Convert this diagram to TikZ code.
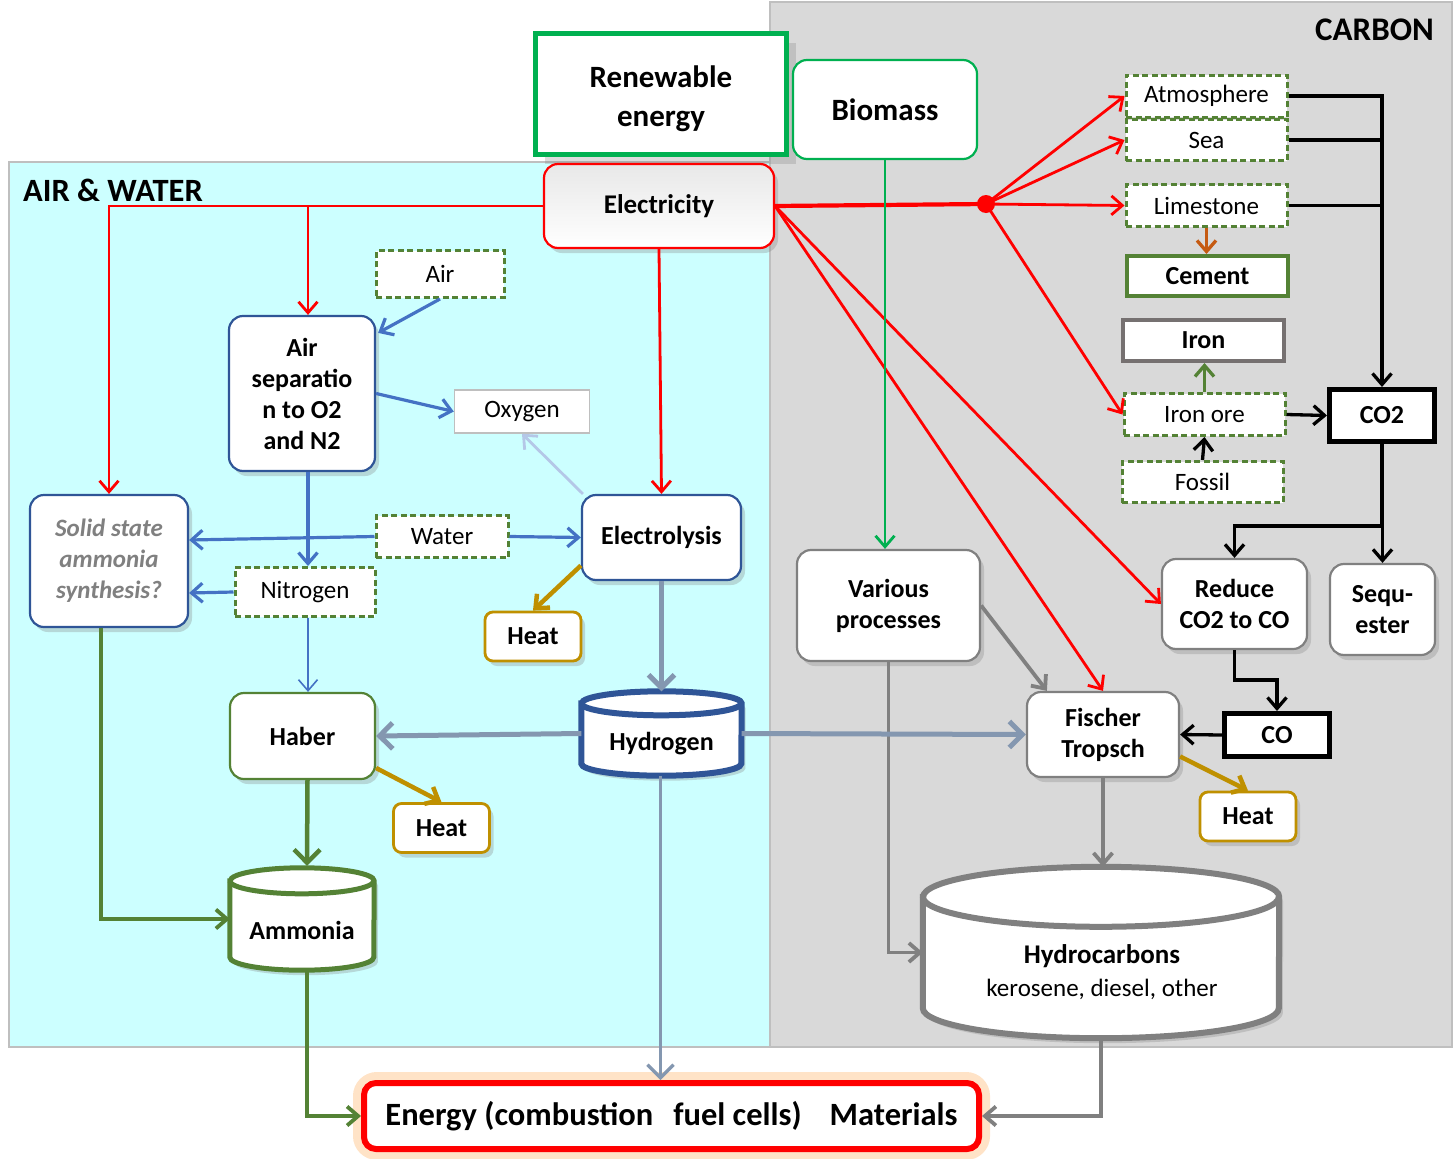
\documentclass[tikz,border=0pt]{standalone}
\usepackage{fontspec}
\setmainfont{Carlito}
\usetikzlibrary{arrows.meta,shadows,calc}
\definecolor{cyanbg}{HTML}{CCFFFF}
\definecolor{greybg}{HTML}{D9D9D9}
\definecolor{rgreen}{HTML}{00B050}
\definecolor{dgreen}{HTML}{548235}
\definecolor{mblue}{HTML}{4472C4}
\definecolor{dblue}{HTML}{2F5597}
\definecolor{gblue}{HTML}{8497B0}
\definecolor{lblue}{HTML}{B4C7E7}
\definecolor{goldc}{HTML}{BF9000}
\definecolor{brownc}{HTML}{C55A11}
\definecolor{mgrey}{HTML}{808080}
\definecolor{irongrey}{HTML}{767171}
\definecolor{edgegrey}{HTML}{BFBFBF}
\newcommand\myb{\fontsize{26}{31}\selectfont\bfseries}
\newcommand\myr{\fontsize{25}{30}\selectfont}
\newcommand\mycyl[6]{% name, colour, line width, rx, ry, shadow
  \filldraw[draw=#2, fill=white, line width=#3pt, #6]
    ($(#1.north west)+(0,#5)$) -- ($(#1.south west)+(0,-#5)$)
    arc[start angle=180, end angle=360, x radius=#4pt, y radius=#5pt]
    -- ($(#1.north east)+(0,#5)$)
    arc[start angle=0, end angle=180, x radius=#4pt, y radius=#5pt] -- cycle;
  \draw[draw=#2, line width=#3pt] ($(#1.north west)+(0,#5)$)
    arc[start angle=180, end angle=360, x radius=#4pt, y radius=#5pt];
}
\tikzset{
  sz/.style 2 args={minimum width=#1pt, minimum height=#2pt},
  sh/.style={drop shadow={opacity=0.3, shadow xshift=4pt, shadow yshift=-5pt}},
  rbox/.style={draw=#1, line width=2.2pt, fill=white, rounded corners=14pt, align=center, inner sep=0pt, font=\myb},
  dbox/.style={draw=dgreen, dashed, dash pattern=on 6pt off 3.5pt, line width=3pt, fill=white, align=center, inner sep=0pt, font=\myr},
  sbox/.style={draw=#1, fill=white, align=center, inner sep=0pt, font=\myb},
  heatbox/.style={draw=goldc, line width=2.8pt, fill=white, rounded corners=8pt, inner sep=0pt, font=\myb, sh, sz={96}{49}},
  arr/.style={-{Straight Barb[length=11pt, width=19pt]}},
  bigarr/.style={-{Straight Barb[length=13pt, width=26pt]}},
  redl/.style={draw=red, line width=2.8pt, arr},
  blk/.style={draw=black, line width=3.3pt},
  mb/.style={draw=mblue, line width=3.2pt, arr},
  gbl/.style={draw=gblue, line width=5pt, bigarr},
  gr/.style={draw=mgrey, line width=3.8pt, arr},
  gd/.style={draw=goldc, line width=4.5pt, arr},
}
\begin{document}
\begin{tikzpicture}[x=1pt, y=-1pt]
\useasboundingbox (0,0) rectangle (1454,1159);
% backgrounds
\filldraw[fill=greybg, draw=edgegrey, line width=1.5pt] (770,2) rectangle (1452,1047);
\filldraw[fill=cyanbg, draw=edgegrey, line width=1.5pt] (9,162) rectangle (770,1047);
\node[font=\fontsize{32.5}{36}\selectfont\bfseries, anchor=west, inner sep=0pt] (tAW) at (23,190) {AIR \& WATER};
\node[font=\fontsize{33}{36}\selectfont\bfseries, anchor=east, inner sep=0pt] (tC) at (1434,30) {CARBON};

% top nodes
\node[draw=rgreen, line width=5pt, fill=white, sz={251}{121}, inner sep=0pt,
  drop shadow={opacity=0.28, shadow xshift=9pt, shadow yshift=-9pt}] (renew) at (661,94) {};
\node[align=center, inner sep=0pt, font=\fontsize{31}{39}\selectfont\bfseries] (renewtext) at (661,99) {Renewable\\energy};
\node[rbox=rgreen, sz={184}{99}, font=\fontsize{31}{36}\selectfont\bfseries] (biomass) at (885,109.5) {Biomass};
\node[rbox=red, sz={230}{84}, sh, top color=black!9, middle color=white, bottom color=white,
  font=\fontsize{27}{32}\selectfont\bfseries] (elec) at (659,206) {Electricity};

% carbon side
\node[dbox, sz={161}{42}] (atm) at (1206.5,96) {Atmosphere};
\node[dbox, sz={161}{41}] (sea) at (1206.5,140) {Sea};
\node[dbox, sz={161}{42}] (lime) at (1206.5,205.5) {Limestone};
\node[sbox=dgreen, line width=4pt, sz={161}{40}] (cement) at (1207.5,276) {Cement};
\node[sbox=irongrey, line width=4pt, sz={161}{41}] (iron) at (1203.5,340.5) {Iron};
\node[dbox, sz={161}{42}] (ironore) at (1204.5,414.5) {Iron ore};
\node[dbox, sz={161}{41}] (fossil) at (1202.5,482) {Fossil};
\node[sbox=black, line width=5pt, sz={105}{52}] (co2) at (1382,415.5) {CO2};
\node[rbox=mgrey, sh, sz={145}{90}] (reduce) at (1234.5,604) {Reduce\\CO2 to CO};
\node[rbox=mgrey, sh, sz={105}{91}] (seq) at (1382.5,609.5) {Sequ-\\ester};
\node[sbox=black, line width=5pt, sz={105}{43}] (co) at (1277,735) {CO};
\node[rbox=mgrey, sh, sz={152}{85}] (fischer) at (1103,734.5) {Fischer\\Tropsch};
\node[heatbox] (heatFT) at (1248,816.5) {Heat};
\node[rbox=mgrey, sh, sz={183}{111}] (various) at (888.5,605.5) {Various\\processes};
\node[circle, fill=red, minimum size=18pt, inner sep=0pt] (dot) at (986,204) {};

% air & water side
\node[dbox, sz={128}{47}] (air) at (440,274) {Air};
\node[rbox=dblue, sh, sz={146}{155}] (airsep) at (302,393.5) {Air\\separatio\\n to O2\\and N2};
\node[sbox=edgegrey, line width=1.5pt, font=\myr, sz={135}{43}] (oxygen) at (522,411.5) {Oxygen};
\node[dbox, sz={132}{42}] (water) at (442,536.5) {Water};
\node[dbox, sz={140}{49}] (nitrogen) at (305,592) {Nitrogen};
\node[rbox=dblue, sh, sz={158}{132}, text=mgrey, font=\fontsize{25}{31}\selectfont\bfseries\itshape] (solid) at (109,561) {Solid state\\ammonia\\synthesis?};
\node[rbox=dblue, sh, sz={159}{85}] (electrolysis) at (661.5,537.5) {Electrolysis};
\node[heatbox] (heatE) at (533,636.5) {Heat};
\node[rbox=dgreen, sh, sz={145}{86}] (haber) at (302.5,736) {Haber};
\node[heatbox] (heatH) at (441.5,828) {Heat};

% cylinders
\node[sz={160}{84}, inner sep=0pt] (hydrogen) at (661.5,733.5) {};
\mycyl{hydrogen}{dblue}{6}{80}{12}{sh}
\node[font=\myb, inner sep=0pt] (hydrogentext) at (661.5,744) {Hydrogen};
\node[sz={144}{102}, inner sep=0pt] (ammonia) at (302,919) {};
\mycyl{ammonia}{dgreen}{5}{72}{13}{sh}
\node[font=\myb, inner sep=0pt] (ammoniatext) at (302,930) {Ammonia};
\node[sz={356}{171}, inner sep=0pt] (hydro) at (1101,952.5) {};
\mycyl{hydro}{mgrey}{6}{178}{30}{sh}
\node[align=center, inner sep=0pt, font=\fontsize{25}{33}\selectfont] (hydrotext) at (1102,972) {{\fontsize{27}{33}\selectfont\bfseries Hydrocarbons}\\kerosene, diesel, other};

% energy box
\draw[orange!40, line width=16pt, rounded corners=16pt, opacity=0.55] (361,1080) rectangle (982,1152);
\node[draw=red, line width=6pt, fill=white, rounded corners=12pt, sz={615}{66}, inner sep=0pt,
  font=\fontsize{32.5}{36}\selectfont\bfseries] (energy) at (671.5,1116)
  {Energy (combustion\hspace{20pt}fuel cells)\hspace{28pt}Materials};

% red connectors
\draw[redl] (elec.west) -| (solid.north);
\draw[redl] ($(airsep.north |- elec.west)+(6,0)$) -- ($(airsep.north)+(6,0)$);
\draw[redl] (elec.south) -- (electrolysis.north);
\draw[draw=red, line width=4.2pt] (elec.east) -- (dot.center);
\draw[redl] (dot.center) -- (atm.west);
\draw[redl] (dot.center) -- (sea.west);
\draw[redl] (dot.center) -- (lime.west);
\draw[redl] (dot.center) -- (ironore.west);
\draw[redl] (elec.east) -- (reduce.west);
\draw[redl] (elec.east) -- (fischer.north);

% black connectors
\draw[blk, arr] (atm.east) -| (co2.north);
\draw[blk] (sea.east) -- (sea.east -| co2.north);
\draw[blk] (lime.east) -- (lime.east -| co2.north);
\coordinate (j2) at ($(co2.south)+(0,82)$);
\draw[blk, arr] (co2.south) -- (j2) -- (j2 -| seq.north) -- (seq.north);
\draw[blk, arr] (j2) -| (reduce.north);
\draw[blk, arr] (reduce.south) -- ++(0,30) -| (co.north);
\draw[blk, arr] (co.west) -- (fischer.east);
\draw[blk, arr] (fossil.north) -- (ironore.south);
\draw[blk, arr] (ironore.east) -- (co2.west);
\draw[draw=dgreen, line width=3.3pt, arr] (ironore.north) -- (ironore.north |- iron.south);
\draw[draw=brownc, line width=3.3pt, arr] (lime.south) -- (lime.south |- cement.north);

% biomass and grey
\draw[draw=rgreen, line width=2.8pt, arr] (biomass.south) -- (biomass.south |- various.north);
\draw[gr] (various.east) -- ($(fischer.north west)+(21,0)$);
\draw[gr] (various.south) |- (hydro.west);
\draw[gr] (fischer.south) -- (fischer.south |- hydro.north);
\draw[gr] (hydro.south) |- (energy.east);

% hydrogen
\draw[gbl] (electrolysis.south) -- (electrolysis.south |- hydrogen.north);
\draw[gbl] (hydrogen.west) -- (haber.east);
\draw[gbl] (hydrogen.east) -- (fischer.west);
\draw[draw=gblue, line width=3.3pt, bigarr] ($(hydrogen.south)+(-1,0)$) -- ($(hydrogen.south |- energy.north)+(-1,0)$);

% blue
\draw[mb] (air.south) -- ($(airsep.north east)+(2,18)$);
\draw[mb] (airsep.east) -- (oxygen.west);
\draw[mb] ($(airsep.south)+(6,0)$) -- ($(nitrogen.north)+(3,0)$);
\draw[mb] (water.east) -- (electrolysis.west);
\draw[mb] (water.west) -- ($(solid.east)+(0,-21)$);
\draw[mb] (nitrogen.west) -- ($(solid.east)+(0,32)$);
\draw[draw=mblue, line width=1.6pt, arr] ($(nitrogen.south)+(3,0)$) -- ($(haber.north)+(5.5,0)$);
\draw[draw=lblue, line width=2.8pt, arr] ($(electrolysis.north west)+(2,0)$) -- (oxygen.south);

% heat
\draw[gd] ($(electrolysis.west)+(0,28)$) -- (heatE.north);
\draw[gd] ($(haber.east)+(0,32)$) -- (heatH.north);
\draw[gd] ($(fischer.east)+(0,22)$) -- (heatFT.north);

% green
\draw[draw=dgreen, line width=4.5pt, bigarr] ($(haber.south)+(5,0)$) -- ($(ammonia.north)+(5,-2)$);
\draw[draw=dgreen, line width=3.8pt, arr] ($(solid.south)+(-8,0)$) |- (ammonia.west);
\draw[draw=dgreen, line width=3.8pt, arr] ($(ammonia.south)+(5,2)$) |- (energy.west);
\end{tikzpicture}
\end{document}
